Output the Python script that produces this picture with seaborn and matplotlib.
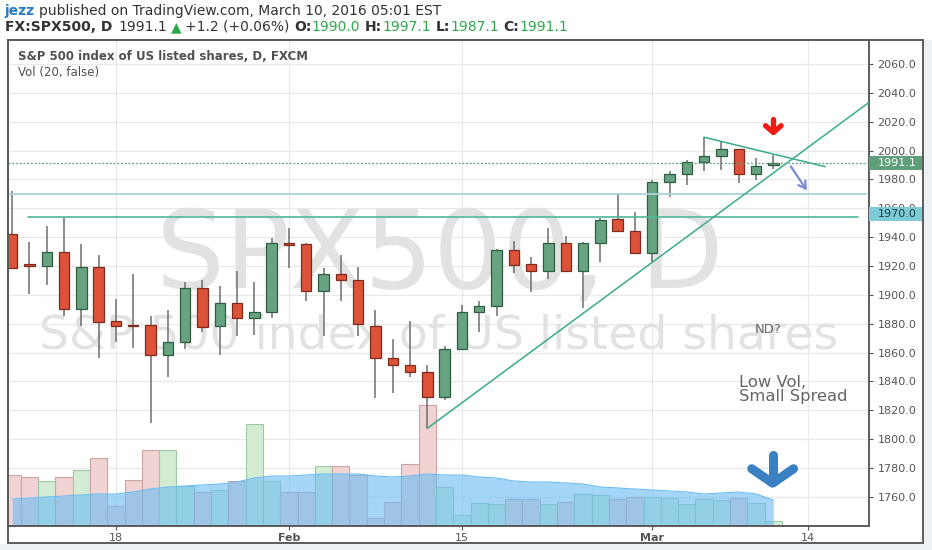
import numpy as np
import pandas as pd
import matplotlib
matplotlib.use('Agg')
import matplotlib.pyplot as plt
from matplotlib.patches import Rectangle
import seaborn as sns

# trading day index, 0 = Jan 18 2016 (FXCM CFD, daily bars)
day = np.arange(-6, 39)

opens = [1942.2, 1921.4, 1919.8, 1929.7, 1890.4, 1919.3, 1881.7, 1879.3, 1878.9,
         1858.3, 1867.3, 1904.6, 1878.2, 1894.2, 1884.0, 1887.9, 1936.2, 1935.1,
         1902.7, 1914.5, 1910.3, 1878.2, 1856.5, 1851.2, 1846.8, 1829.4, 1862.3,
         1887.9, 1892.3, 1930.9, 1921.2, 1916.8, 1936.0, 1916.8, 1936.2, 1952.4,
         1944.5, 1928.8, 1978.4, 1983.6, 1992.3, 1996.5, 2000.9, 1983.6, 1990.0]
highs = [1972.2, 1936.6, 1947.7, 1953.8, 1935.1, 1927.8, 1897.1, 1914.3, 1885.6,
         1889.3, 1908.7, 1910.5, 1905.9, 1916.5, 1908.7, 1939.2, 1946.3, 1936.0,
         1918.4, 1927.4, 1919.5, 1889.5, 1869.4, 1881.9, 1851.2, 1864.8, 1893.0,
         1895.8, 1931.5, 1937.3, 1926.0, 1946.3, 1940.8, 1936.3, 1953.1, 1970.8,
         1957.2, 1979.6, 1986.1, 1993.3, 2009.2, 2005.7, 2001.1, 1995.1, 1997.1]
lows = [1918.0, 1900.6, 1907.1, 1885.6, 1878.6, 1856.5, 1867.1, 1863.4, 1811.0,
        1842.9, 1862.7, 1874.3, 1858.3, 1871.7, 1872.4, 1883.8, 1918.8, 1896.0,
        1871.7, 1896.0, 1871.7, 1828.3, 1831.8, 1843.3, 1807.5, 1827.2, 1861.8,
        1874.5, 1885.4, 1915.4, 1901.8, 1911.2, 1916.5, 1890.7, 1923.0, 1943.6,
        1928.3, 1923.0, 1968.0, 1976.1, 1985.8, 1986.5, 1977.7, 1979.8, 1987.1]
closes = [1918.5, 1920.0, 1929.7, 1890.4, 1919.3, 1881.4, 1878.6, 1878.6, 1858.3,
          1867.3, 1904.6, 1877.9, 1894.2, 1884.2, 1887.9, 1936.2, 1934.6, 1902.7,
          1914.5, 1910.3, 1879.8, 1856.5, 1851.2, 1846.8, 1829.4, 1862.3, 1887.9,
          1892.5, 1930.9, 1920.9, 1916.8, 1936.0, 1916.8, 1936.0, 1951.9, 1944.3,
          1928.8, 1978.4, 1983.6, 1992.3, 1996.2, 2000.9, 1983.6, 1989.3, 1991.1]

# volume (thousands) and its 20 bar average
volume = [51, 49, 45, 49, 56, 68, 20, 46, 76, 76, 40, 34, 36, 45, 102, 45, 34, 34,
          60, 60, 51, 8, 24, 62, 121, 39, 11, 23, 22, 27, 27, 22, 24, 32, 31, 27,
          29, 29, 28, 22, 27, 26, 28, 23, 5]
vol_ma = [27, 28, 29, 30, 31, 32, 32, 34, 37, 39, 40, 41, 42, 44, 48, 50, 50, 51,
          52, 52, 52, 50, 49, 50, 52, 51, 51, 49, 48, 45, 44, 44, 43, 42, 39, 38,
          37, 36, 35, 34, 32, 33, 34, 32, 26]

date_ticks = [0, 10, 20, 31, 40]
date_labels = ['18', 'Feb', '15', 'Mar', '14']
price_ticks = [1760, 1780, 1800, 1820, 1840, 1860, 1880, 1900, 1920, 1940, 1960,
               1980, 2000, 2020, 2040, 2060]

# hand drawn lines on the chart: (day, price) pairs
support_top = 1970.0
support_low = 1954.2
rise_line = ([18, 43.5], [1807.5, 2033.1])
fall_line = ([34, 41], [2009.2, 1988.8])

df = pd.DataFrame({'day': day, 'open': opens, 'high': highs, 'low': lows,
                   'close': closes, 'volume': volume, 'vol_ma': vol_ma})
df['up'] = df['close'] >= df['open']

sns.set_style('white')
plt.rcParams['font.family'] = ['DejaVu Sans']

W, H = 932, 550
fig = plt.figure(figsize=(W / 100, H / 100), dpi=100, facecolor='white')
rect = [8 / W, 24 / H, 861 / W, 486 / H]
ax_v = fig.add_axes(rect)
ax = fig.add_axes(rect, sharex=ax_v)
ax.patch.set_visible(False)

ylo, yhi = 1739.8, 2076.6
ax.set_xlim(-6.24, 43.53)
ax.set_ylim(ylo, yhi)
ax_v.set_ylim(0, 486)

# grid lives on the bottom axes so it stays behind everything
ax_v.set_yticks([(p - ylo) * 486 / (yhi - ylo) for p in price_ticks])
ax_v.grid(True, color='#e8e8e8', lw=0.9)
ax_v.tick_params(left=False, labelleft=False, bottom=False, labelbottom=False)
for s in ax_v.spines.values():
    s.set_visible(False)

# watermark
ax_v.text(0.502, 0.49, 'SPX500, D', transform=ax_v.transAxes, ha='center',
          va='baseline', fontsize=78, color='#e2e2e2', zorder=1)
ax_v.text(0.500, 0.366, 'S&P 500 index of US listed shares', transform=ax_v.transAxes,
          ha='center', va='baseline', fontsize=34, color='#e2e2e2', zorder=1)

# volume
vcol = np.where(df['up'], '#d3ecd3', '#f0d3d3')
vedge = np.where(df['up'], '#9fc9a4', '#cfa3a3')
ax_v.bar(df['day'], df['volume'], width=1.0, color=vcol, edgecolor=vedge, lw=0.8, zorder=2)
ax_v.fill_between(df['day'], 0, df['vol_ma'], color='#69bcf3', alpha=0.6, lw=0, zorder=3)
sns.lineplot(x='day', y='vol_ma', data=df, ax=ax_v, color='#69bcf3', lw=0.8, zorder=3)
ax_v.set_xlabel('')
ax_v.set_ylabel('')

# candles
body_lo = np.minimum(df['open'], df['close'])
body_h = np.maximum(np.abs(df['close'] - df['open']), 0.4)
ax.vlines(df['day'], df['low'], df['high'], color='#6e6e6e', lw=1.1, zorder=2)
ax.bar(df['day'], body_h, bottom=body_lo, width=0.6,
       color=np.where(df['up'], '#67a380', '#dd5238'),
       edgecolor=np.where(df['up'], '#2e5d40', '#7d2b1c'), lw=0.9, zorder=3)

# drawings
ax.plot([-6.24, 43.35], [support_top] * 2, color='#a9d2dd', lw=1.3, zorder=4)
ax.plot([-5.1, 42.9], [support_low] * 2, color='#4fb89c', lw=1.2, zorder=4)
ax.plot(*rise_line, color='#3aab8a', lw=1.1, zorder=4)
ax.plot(*fall_line, color='#3aab8a', lw=1.1, zorder=4)
ax.axhline(closes[-1], color='#5e9f79', lw=0.9, ls=(0, (1.5, 1.5)), zorder=4)
ax.annotate('', xy=(40.03, 1970.8), xytext=(38.92, 1990.6),
            arrowprops=dict(arrowstyle='->,head_length=0.5,head_width=0.3',
                            color='#7b8bd0', lw=1.6), zorder=5)

arrow_kw = dict(solid_capstyle='round', solid_joinstyle='round', zorder=6)
ax.plot([38, 38], [2021.9, 2012.8], color='#f01a12', lw=3.8, **arrow_kw)
ax.plot([37.55, 38, 38.45], [2017.2, 2012.5, 2017.2], color='#f01a12', lw=3.8, **arrow_kw)
ax.plot([37.96, 37.96], [1789.0, 1770.5], color='#3a80c3', lw=6.5, **arrow_kw)
ax.plot([36.75, 37.96, 39.17], [1779.5, 1769.5, 1779.5], color='#3a80c3', lw=6.5, **arrow_kw)

ax.text(37.7, 1876.3, 'ND?', ha='center', va='center', fontsize=9.5, color='#666666', zorder=6)
ax.text(36.0, 1838.9, 'Low Vol,', ha='left', va='center', fontsize=11.8, color='#666666', zorder=6)
ax.text(36.0, 1829.3, 'Small Spread', ha='left', va='center', fontsize=11.8, color='#666666', zorder=6)

ax.text(0.0116, 0.9655, 'S&P 500 index of US listed shares, D, FXCM', transform=ax.transAxes,
        ha='left', va='center', fontsize=8.5, fontweight='bold', color='#505050', zorder=7)
ax.text(0.0116, 0.9325, 'Vol (20, false)', transform=ax.transAxes,
        ha='left', va='center', fontsize=8.5, color='#505050', zorder=7)

# axes
ax.yaxis.tick_right()
ax.set_yticks(price_ticks, ['%.1f' % p for p in price_ticks])
ax.set_xticks(date_ticks, date_labels)
for lab in ax.get_xticklabels():
    if lab.get_text() in ('Feb', 'Mar'):
        lab.set_fontweight('bold')
ax.tick_params(axis='y', left=False, right=True, length=3, width=0.8, color='#555555',
               labelsize=8, labelcolor='#555555', pad=3)
ax.tick_params(axis='x', bottom=True, length=3, width=0.8, color='#555555',
               labelsize=8, labelcolor='#555555', pad=2)
for s in ax.spines.values():
    s.set_color('#5b5b5b')
    s.set_linewidth(1.4)

# price labels on the scale
ytr = ax.get_yaxis_transform()
box_h = 14 * (yhi - ylo) / 486
for price, text, fc, tc in [(closes[-1], '1991.1', '#5e9f79', 'white'),
                            (1956.0, '1970.0', '#7ccbd6', '#1d3b42')]:
    ax.add_patch(Rectangle((1.0, price - box_h / 2), 54 / 861, box_h, transform=ytr,
                           facecolor=fc, edgecolor='none', clip_on=False, zorder=8))
    ax.text(1.0 + 9 / 861, price, text, transform=ytr, ha='left', va='center',
            fontsize=8, color=tc, clip_on=False, zorder=9)

# frame and surrounding strips
fig.add_artist(Rectangle((8 / W, 7 / H), 915 / W, 503 / H, transform=fig.transFigure,
                         fill=False, edgecolor='#5b5b5b', lw=1.4))
fig.add_artist(Rectangle((924 / W, 0), 8 / W, 510 / H, transform=fig.transFigure,
                         facecolor='#eef1f3', edgecolor='none'))
fig.add_artist(Rectangle((0, 0), 1, 6 / H, transform=fig.transFigure,
                         facecolor='#eef1f3', edgecolor='none'))

# header
renderer = fig.canvas.get_renderer()


def text_run(x, y, pieces, size):
    for s, color, weight, gap in pieces:
        t = fig.text(x / W, 1 - y / H, s, color=color, fontweight=weight,
                     fontsize=size, ha='left', va='baseline')
        x += t.get_window_extent(renderer=renderer).width + gap


dark = '#333333'
green = '#2ea84a'
text_run(5, 15, [('jezz', '#2a7bc4', 'bold', 4),
                 ('published on TradingView.com, March 10, 2016 05:01 EST', dark, 'normal', 0)], 10)
text_run(5, 31, [('FX:SPX500, D', dark, 'bold', 6), ('1991.1', dark, 'normal', 4),
                 ('\u25b2', green, 'normal', 3), ('+1.2 (+0.06%)', dark, 'normal', 5),
                 ('O:', dark, 'bold', 0), ('1990.0', green, 'normal', 5),
                 ('H:', dark, 'bold', 0), ('1997.1', green, 'normal', 5),
                 ('L:', dark, 'bold', 0), ('1987.1', green, 'normal', 5),
                 ('C:', dark, 'bold', 0), ('1991.1', green, 'normal', 0)], 10)

fig.savefig('out.png', dpi=100, facecolor=fig.get_facecolor())
